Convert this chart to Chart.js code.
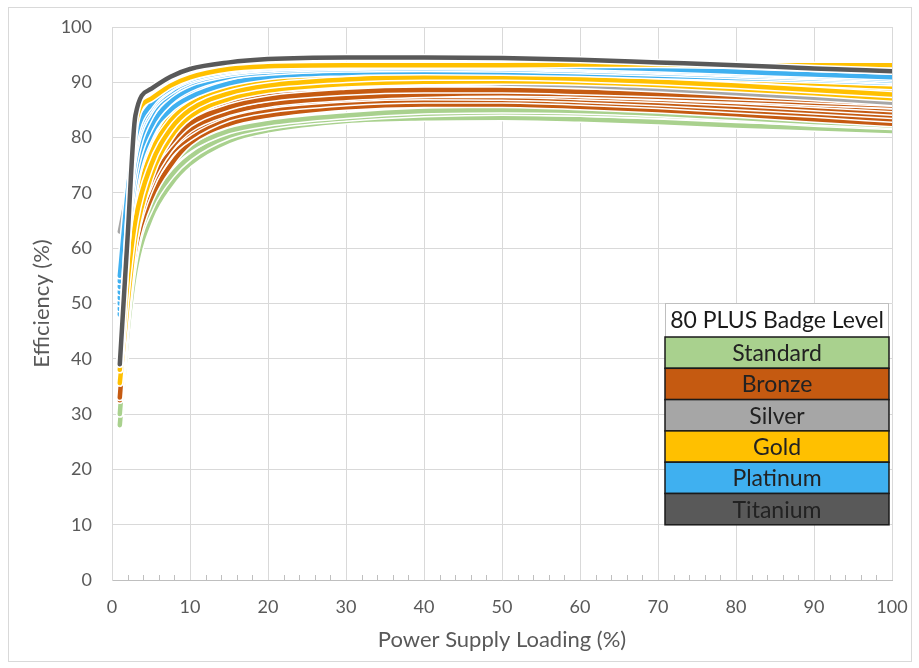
<!DOCTYPE html>
<html>
<head>
<meta charset="utf-8">
<script src="https://cdn.jsdelivr.net/npm/chart.js@4.4.1/dist/chart.umd.min.js"></script>
<style>
  html, body { margin: 0; padding: 0; background: #fff; }
  #wrap { width: 919px; height: 668px; }
</style>
</head>
<body>
<div id="wrap"><canvas id="eff" width="919" height="668"></canvas></div>
<script>
// load points (%) shared by every curve
const loads = [1, 2, 3, 5, 7.5, 10, 15, 20, 30, 40, 50, 60, 70, 80, 90, 100];

const standard = [
    [28, 45, 56, 65.5, 71.5, 75.3, 79.4, 81.3, 83, 83.5, 83.6, 83.3, 82.8, 82.2, 81.7, 81.2],
    [30, 48, 59, 67.5, 73, 76.5, 80.3, 82, 83.5, 84.3, 84.6, 84.4, 84, 83.4, 82.6, 82],
    [33, 52, 62, 70, 75, 78, 81.2, 82.6, 84, 84.8, 85, 84.8, 84.3, 83.6, 82.8, 82.2]
];
const bronze = [
    [32.5, 50, 60, 69, 75, 79, 82.5, 84, 85.5, 86, 86, 85.6, 85, 84.2, 83.3, 82.5],
    [34, 52, 62, 71, 77, 80, 83.5, 85, 86.3, 86.8, 86.8, 86.4, 85.8, 85, 84.2, 83.3],
    [35, 54, 64, 73, 78, 81, 84.3, 85.8, 87, 87.4, 87.3, 86.9, 86.3, 85.6, 84.8, 84],
    [36, 55, 65, 74, 79.5, 82, 85, 86.5, 87.5, 87.8, 87.8, 87.4, 86.9, 86.2, 85.4, 84.6],
    [37, 57, 67, 75, 80.5, 83, 85.8, 87, 88, 88.3, 88.2, 87.8, 87.3, 86.7, 86, 85.2],
    [38, 58, 68, 76.5, 81.5, 84, 86.5, 87.5, 88.3, 88.6, 88.5, 88.1, 87.6, 87, 86.4, 85.7],
    [33, 51, 63, 72, 78, 81.5, 84.5, 86, 87.2, 87.8, 88, 87.8, 87.4, 86.9, 86.3, 85.8],
    [36, 56, 66, 74, 79, 82.5, 85.5, 87, 88.2, 88.6, 88.6, 88.3, 87.9, 87.4, 86.8, 86.2]
];
const silver = [
    [63, 70, 76, 82, 86, 88, 89.8, 90.5, 91, 91.2, 91, 90.6, 89.8, 88.8, 87.7, 86.5],
    [45, 60, 70, 78, 83, 85.5, 88, 89, 89.8, 90, 89.8, 89.4, 88.8, 88, 87.2, 86.3]
];
const gold = [
    [42, 58, 70, 79, 84.5, 87.5, 89.8, 91, 91.7, 92, 92, 91.8, 91.3, 90.6, 89.8, 89],
    [38, 55, 68, 78, 84, 87, 89.5, 90.5, 91.3, 91.6, 91.7, 91.5, 91.1, 90.5, 89.8, 89],
    [37, 54, 66, 76, 82.5, 85.5, 88.5, 89.8, 90.8, 91.2, 91.3, 91.1, 90.7, 90.1, 89.4, 88.7],
    [36, 52, 64, 74, 81, 84.4, 87.5, 89, 90.2, 90.6, 90.6, 90.3, 89.8, 89.1, 88.3, 87.5],
    [43, 60, 72, 80, 85.5, 88.3, 90.3, 91.3, 92, 92.2, 92.1, 91.8, 91.2, 90.4, 89.6, 88.8],
    [39, 56, 67, 77, 83, 86, 88.8, 90, 91, 91.4, 91.5, 91.2, 90.7, 90, 89.2, 88.3],
    [35.6, 50, 62, 73, 80, 83.8, 87, 88.5, 89.7, 90.1, 90.2, 90, 89.5, 88.8, 88, 87.1],
    [41, 59, 71, 80, 86, 88.8, 90.8, 91.7, 92.3, 92.5, 92.4, 92, 91.4, 90.6, 89.8, 89.2],
    [38, 54, 65, 75, 81.5, 85, 88, 89.4, 90.5, 90.9, 90.9, 90.6, 90.1, 89.4, 88.6, 87.8]
];
const platinum = [
    [48, 63, 73, 81.5, 86, 88.3, 90.6, 91.6, 92.2, 92.4, 92.3, 92, 91.6, 91.1, 90.6, 90.1],
    [49, 62, 72, 80.5, 85, 87.3, 89.8, 91, 91.7, 91.9, 91.8, 91.6, 91.2, 90.8, 90.4, 89.9],
    [50, 65, 75, 83, 87, 89.3, 91.2, 92, 92.5, 92.6, 92.5, 92.2, 91.8, 91.4, 90.9, 90.4],
    [51, 64, 74, 82, 86.5, 88.8, 91, 91.8, 92.4, 92.5, 92.4, 92.1, 91.7, 91.2, 90.7, 90.2],
    [52, 66, 76, 84, 87.8, 89.8, 91.5, 92.2, 92.7, 92.8, 92.7, 92.4, 92, 91.5, 91, 90.3],
    [53, 68, 78, 85, 88.3, 90.2, 91.8, 92.5, 92.9, 93, 92.9, 92.6, 92.2, 91.7, 91.2, 90.6],
    [54, 69, 79, 85.5, 88.8, 90.5, 92, 92.6, 93, 93.1, 93, 92.8, 92.5, 92.1, 91.8, 91.6],
    [55, 70, 80, 86, 89, 90.8, 92.2, 92.8, 93.1, 93.2, 93.1, 92.8, 92.4, 91.9, 91.4, 90.9]
];
const goldTop = [40, 62, 82.5, 87, 89.4, 90.9, 92.4, 92.9, 93.1, 93.1, 93.1, 93.2, 93.2, 93.1, 93.1, 93.1];
const titanium = [
    [39, 62, 84, 88.8, 91, 92.4, 93.6, 94.2, 94.5, 94.5, 94.4, 94.1, 93.6, 93.1, 92.5, 92]
];

const badgeLevels = ['Standard', 'Bronze', 'Silver', 'Gold', 'Platinum', 'Titanium'];
const badgeColors = ['#a9d18e', '#c55a11', '#a6a6a6', '#ffc000', '#3fb0f0', '#595959'];

// draw order: later entries end up on top
const curves = [];
standard.forEach(v => curves.push({ level: 0, v: v }));
bronze.forEach(v => curves.push({ level: 1, v: v }));
silver.forEach(v => curves.push({ level: 2, v: v }));
gold.forEach(v => curves.push({ level: 3, v: v }));
platinum.forEach(v => curves.push({ level: 4, v: v }));
curves.push({ level: 3, v: goldTop });
titanium.forEach(v => curves.push({ level: 5, v: v }));

const N = curves.length;
const datasets = [];
curves.forEach(function (c, k) {
    var pts = loads.map((x, i) => ({ x: x, y: c.v[i] }));
    datasets.push({
        label: badgeLevels[c.level],
        data: pts,
        borderColor: badgeColors[c.level],
        borderWidth: 4.5,
        order: (N - k) * 2
    });
    // white halo under each curve
    datasets.push({
        label: '',
        data: pts,
        borderColor: '#ffffff',
        borderWidth: 7.5,
        order: (N - k) * 2 + 1
    });
});

const frame = {
    id: 'frame',
    beforeDraw(chart) {
        const ctx = chart.ctx;
        ctx.save();
        ctx.fillStyle = '#fff';
        ctx.fillRect(0, 0, chart.width, chart.height);
        ctx.strokeStyle = '#d9d9d9';
        ctx.lineWidth = 1;
        ctx.strokeRect(8.5, 7.5, 903, 654);
        ctx.restore();
    }
};

const minorTicks = {
    id: 'minorTicks',
    afterDatasetsDraw(chart) {
        const ctx = chart.ctx;
        const x = chart.scales.x;
        const yb = chart.chartArea.bottom;
        ctx.save();
        ctx.strokeStyle = '#bfbfbf';
        ctx.lineWidth = 1;
        ctx.beginPath();
        for (let v = 2; v < 100; v += 2) {
            if (v % 10 === 0) continue;
            const px = Math.round(x.getPixelForValue(v)) + 0.5;
            ctx.moveTo(px, yb);
            ctx.lineTo(px, yb - 5);
        }
        ctx.stroke();
        ctx.restore();
    }
};

const badgeTable = {
    id: 'badgeTable',
    afterDraw(chart) {
        const ctx = chart.ctx;
        const left = 665, w = 224, top = 303, head = 34, row = 31.3;
        ctx.save();
        ctx.fillStyle = '#fff';
        ctx.fillRect(left, top, w, head);
        ctx.strokeStyle = '#bfbfbf';
        ctx.lineWidth = 1;
        ctx.strokeRect(left + 0.5, top + 0.5, w - 1, head);
        ctx.textAlign = 'center';
        ctx.textBaseline = 'middle';
        ctx.font = '23px Lato';
        ctx.fillStyle = '#1a1a1a';
        ctx.fillText('80 PLUS Badge Level', left + w / 2, top + head / 2 + 1);
        badgeLevels.forEach(function (name, i) {
            const y = top + head + i * row;
            ctx.fillStyle = badgeColors[i];
            ctx.fillRect(left, y, w, row);
            ctx.strokeStyle = '#1a1a1a';
            ctx.lineWidth = 1.5;
            ctx.strokeRect(left, y, w, row);
            ctx.fillStyle = '#222';
            ctx.fillText(name, left + w / 2, y + row / 2 + 1);
        });
        ctx.restore();
    }
};

Chart.defaults.font.family = 'Lato, "Open Sans", sans-serif';

new Chart(document.getElementById('eff').getContext('2d'), {
    type: 'line',
    data: { datasets: datasets },
    plugins: [frame, minorTicks, badgeTable],
    options: {
        responsive: false,
        animation: false,
        layout: { padding: { top: 27, right: 27, left: 0, bottom: 0 } },
        elements: {
            point: { radius: 0 },
            line: { cubicInterpolationMode: 'monotone', borderCapStyle: 'round', borderJoinStyle: 'round' }
        },
        scales: {
            x: {
                type: 'linear',
                min: 0,
                max: 100,
                afterFit: function (s) { s.height = 88; s.paddingLeft = 0; s.paddingRight = 0; },
                grid: { color: '#d9d9d9', drawTicks: false },
                border: { color: '#bfbfbf' },
                ticks: { stepSize: 10, padding: 16, color: '#595959', font: { size: 18 } },
                title: {
                    display: true,
                    text: 'Power Supply Loading (%)',
                    color: '#595959',
                    font: { size: 22 },
                    padding: { top: 0, bottom: 15 }
                }
            },
            y: {
                min: 0,
                max: 100,
                afterFit: function (s) { s.width = 112; s.paddingTop = 0; s.paddingBottom = 0; },
                grid: { color: '#d9d9d9', drawTicks: false },
                border: { color: '#d9d9d9' },
                ticks: { stepSize: 10, padding: 20, color: '#595959', font: { size: 18 } },
                title: {
                    display: true,
                    text: 'Efficiency (%)',
                    color: '#595959',
                    font: { size: 22 },
                    padding: { top: 29, bottom: 0 }
                }
            }
        },
        plugins: {
            legend: { display: false },
            tooltip: { enabled: false }
        }
    }
});
</script>
</body>
</html>
